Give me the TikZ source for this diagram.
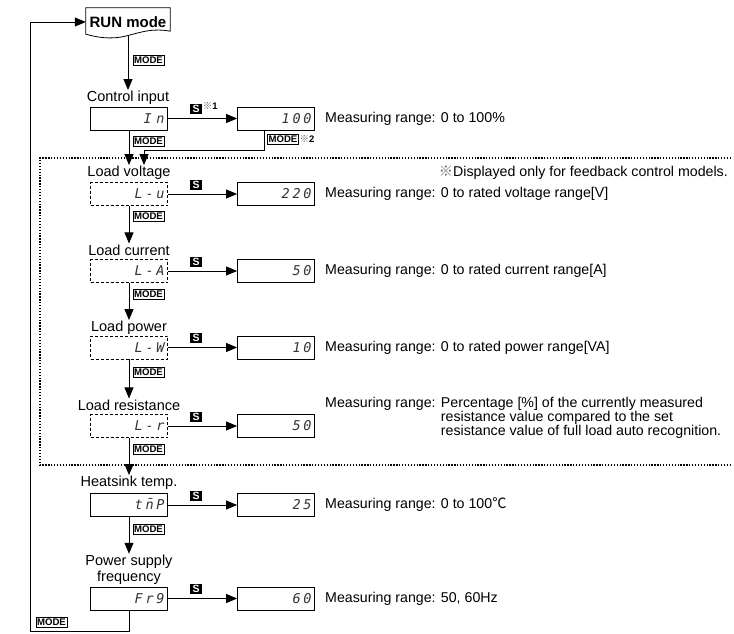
\documentclass[tikz,border=0pt]{standalone}
\usepackage{fontspec}
\setmainfont{Liberation Sans}
\newfontfamily\cjk{Noto Sans CJK JP}
\newfontfamily\segfont[LetterSpace=20]{DejaVu Sans Mono}
\usepackage{tikz}
\usetikzlibrary{arrows.meta, positioning, calc}

\begin{document}
\begin{tikzpicture}[
		x=1pt, y=-1pt,
		% Define styles for the displays, keys and arrows
		seg_box/.style={
			rectangle,
			draw,
			line width=0.8pt,
			minimum height=23pt,
			text width=71pt,
			inner xsep=3pt,
			inner ysep=0pt,
			align=right,
			text=black!80,
			font=\segfont\itshape\fontsize{13.5}{14}\selectfont
		},
		seg_box_dash/.style={
			seg_box,
			densely dashed
		},
		item_label/.style={
			inner sep=1pt,
			align=center,
			font=\fontsize{14.5}{15.5}\selectfont
		},
		range_text/.style={
			anchor=west,
			inner sep=0pt,
			font=\fontsize{14.2}{16}\selectfont
		},
		s_key/.style={
			rectangle,
			fill=black,
			text=white,
			inner sep=1pt,
			minimum width=12pt,
			minimum height=10.5pt,
			font=\bfseries\fontsize{10.5}{10.5}\selectfont
		},
		mode_key/.style={
			rectangle,
			draw,
			line width=0.6pt,
			fill=white,
			inner xsep=1.3pt,
			inner ysep=1.5pt,
			font=\bfseries\fontsize{9.6}{9.6}\selectfont
		},
		note_mark/.style={
			anchor=west,
			inner sep=0.5pt,
			font=\fontsize{9.5}{9.5}\selectfont
		},
		flow_arrow/.style={
			-{Triangle[length=11pt, width=9pt]},
			line width=0.8pt,
			draw=black
		},
		dot_line/.style={
			line width=1.4pt,
			dash pattern=on 1.3pt off 1.6pt
		},
		]
		\useasboundingbox (0,0) rectangle (734,634);
		
		% ----- Nodes -----
		% RUN mode
		\node[inner sep=0, minimum width=84pt, minimum height=28pt, font=\bfseries\fontsize{15}{15}\selectfont] (run) at (128,22) {RUN mode};
		\draw[line width=0.8pt] ([yshift=2pt]run.south west) -- (run.north west) -- (run.north east) -- ([yshift=5pt]run.south east)
			.. controls (152,28) and (142,32) .. (126,36) .. controls (110,40) and (96,37) .. ([yshift=2pt]run.south west) -- cycle;
		
		% Labels of the left column
		\node[item_label] (lbl_in) at (128,98) {Control input};
		\node[item_label] (lbl_lv) at (129,173) {Load voltage};
		\node[item_label] (lbl_lc) at (129,250) {Load current};
		\node[item_label] (lbl_lp) at (129,328) {Load power};
		\node[item_label] (lbl_lr) at (129,405) {Load resistance};
		\node[item_label] (lbl_hs) at (129,483) {Heatsink temp.};
		\node[item_label] (lbl_pf) at (129,569.5) {Power supply\\frequency};
		
		% Displays of the left column
		\node[seg_box] (in_box) at (129,118.5) {I n};
		\node[seg_box_dash] (lv_box) at (129,194) {L-u};
		\node[seg_box_dash] (lc_box) at (129,271) {L-A};
		\node[seg_box_dash] (lp_box) at (129,347.5) {L-W};
		\node[seg_box_dash] (lr_box) at (129,426) {L-r};
		\node[seg_box] (hs_box) at (129,505) {t\hspace{2.7pt}\ooalign{n\cr\hidewidth\raisebox{1pt}{¯}\hidewidth\cr}\hspace{2.7pt}P};
		\node[seg_box] (pf_box) at (129,598.5) {Fr9};
		
		% Displays of the measured values
		\node[seg_box] (in_val) at (276,118.5) {100};
		\node[seg_box] (lv_val) at (276,194) {220};
		\node[seg_box] (lc_val) at (276,271) {50};
		\node[seg_box] (lp_val) at (276,347.5) {10};
		\node[seg_box] (lr_val) at (276,426) {50};
		\node[seg_box] (hs_val) at (276,505) {25};
		\node[seg_box] (pf_val) at (276,598.5) {60};
		
		% S keys
		\node[s_key] (s_in) at (196,109) {S};
		\node[note_mark, anchor=north west] at ([yshift=2pt]s_in.north east) {{\cjk\color{black!60}※}\textbf{1}};
		\node[s_key] (s_lv) at (196,185) {S};
		\node[s_key] (s_lc) at (196,262) {S};
		\node[s_key] (s_lp) at (196,338) {S};
		\node[s_key] (s_lr) at (196,417) {S};
		\node[s_key] (s_hs) at (196,496) {S};
		\node[s_key] (s_pf) at (196,589) {S};
		
		% MODE keys
		\node[mode_key] (m_run) at (148.5,60.5) {MODE};
		\node[mode_key] (m_in) at (148.5,141) {MODE};
		\node[mode_key] (m_val) at (283,139) {MODE};
		\node[note_mark] at (m_val.east) {{\cjk\color{black!60}※}\textbf{2}};
		\node[mode_key] (m_lv) at (148.5,216) {MODE};
		\node[mode_key] (m_lc) at (148.5,294) {MODE};
		\node[mode_key] (m_lp) at (148.5,372) {MODE};
		\node[mode_key] (m_lr) at (148.5,449) {MODE};
		\node[mode_key] (m_hs) at (148.5,529) {MODE};
		\node[mode_key] (m_back) at (51.5,622) {MODE};
		
		% Measuring ranges
		\node[range_text] (r_in) at (325,118.5) {Measuring range: 0 to 100\%};
		\node[range_text] (r_lv) at (325,194) {Measuring range: 0 to rated voltage range[V]};
		\node[range_text] (r_lc) at (325,271) {Measuring range: 0 to rated current range[A]};
		\node[range_text] (r_lp) at (325,347.5) {Measuring range: 0 to rated power range[VA]};
		\node[range_text] (r_lr) at (325,418) {\begin{tabular}{@{}l@{ }l@{}}
				Measuring range: & Percentage [\%] of the currently measured\\[-2pt]
				& resistance value compared to the set\\[-2pt]
				& resistance value of full load auto recognition.
			\end{tabular}};
		\node[range_text] (r_hs) at (325,505) {Measuring range: 0 to 100{\cjk ℃}};
		\node[range_text] (r_pf) at (325,598.5) {Measuring range: 50, 60Hz};
		\node[range_text, anchor=east] (note) at (728,173) {{\cjk\color{black!60}※}Displayed only for feedback control models.};
		
		% Feedback area
		\draw[dot_line] (731,158) -- (40,158) -- (40,465) -- (731,465);
		
		% ----- Arrows -----
		\coordinate (bend_val) at (144,150);
		\coordinate (ret_corner) at (30,631);
		\draw[flow_arrow] (run.south) -- (lbl_in.north);
		\draw[flow_arrow] (in_box.south) -- (in_box.south |- lbl_lv.north);
		\draw[flow_arrow] ([xshift=-12pt]in_val.south) |- (bend_val) -- (bend_val |- lbl_lv.north);
		\draw[flow_arrow] (lv_box.south) -- (lbl_lc.north);
		\draw[flow_arrow] (lc_box.south) -- (lbl_lp.north);
		\draw[flow_arrow] (lp_box.south) -- (lbl_lr.north);
		\draw[flow_arrow] (lr_box.south) -- (lbl_hs.north);
		\draw[flow_arrow] (hs_box.south) -- (lbl_pf.north);
		\draw[flow_arrow] (pf_box.south) |- (ret_corner) |- (run.west);
		
		% Arrows to the measured values
		\foreach \row in {in, lv, lc, lp, lr, hs, pf}
			\draw[flow_arrow] (\row_box.east) -- (\row_val.west);
		
	\end{tikzpicture}
\end{document}
